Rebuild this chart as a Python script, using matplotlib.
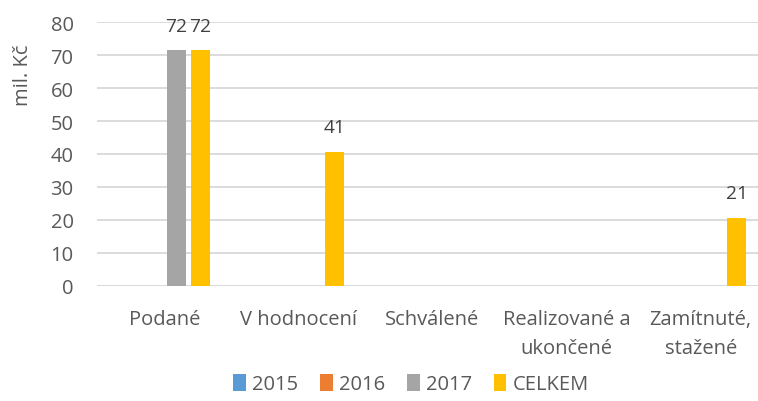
import matplotlib
matplotlib.use("Agg")
import matplotlib.pyplot as plt
import numpy as np

categories = ["Podané", "V hodnocení", "Schválené", "Realizované a\nukončené", "Zamítnuté,\nstažené"]
series_names = ["2015", "2016", "2017", "CELKEM"]
v2015 = [0, 0, 0, 0, 0]
v2016 = [0, 0, 0, 0, 0]
v2017 = [71.6, 0, 0, 0, 0]
vcelkem = [71.6, 40.7, 0, 0, 20.7]
colors = ["#5B9BD5", "#ED7D31", "#A5A5A5", "#FFC000"]
yticks = [0, 10, 20, 30, 40, 50, 60, 70, 80]

plt.rcParams['font.family'] = ['Open Sans', 'DejaVu Sans']
FS = 14.5
W, H = 758, 402
fig = plt.figure(figsize=(W/100, H/100), dpi=100)
left = 97.2 / W
bottom = 1 - 286.7 / H
ax = fig.add_axes([left, bottom, 670.5 / W, 263.4 / H])

x = np.arange(len(categories))
pitch = 24 / 134.1
bw = 19 / 134.1
txtc = "#595959"
all_series = [v2015, v2016, v2017, vcelkem]
for i, (name, vals, c) in enumerate(zip(series_names, all_series, colors)):
    pos = x + (i - 1.5) * pitch
    bars = ax.bar(pos, vals, width=bw, color=c, label=name, zorder=3)
    for b, v in zip(bars, vals):
        if v > 0:
            ax.annotate(f"{round(v):.0f}", (b.get_x() + b.get_width() / 2, v),
                        xytext=(0, 17.5), textcoords="offset points",
                        ha="center", va="center", fontsize=13.8, color="#404040")

ax.set_xlim(-0.5, len(categories) - 0.5)
ax.set_ylim(0, 80)
ax.set_yticks(yticks)
ax.set_xticks(x)
ax.set_xticklabels(categories, linespacing=1.55)
ax.yaxis.grid(True, color="#D9D9D9", linewidth=1.3, zorder=0)
ax.set_axisbelow(True)
for s in ax.spines.values():
    s.set_visible(False)
ax.axhline(0, color="#D9D9D9", linewidth=1.3, zorder=1)
ax.tick_params(axis='both', length=0, labelsize=FS, colors=txtc)
ax.tick_params(axis='y', pad=17)
ax.tick_params(axis='x', pad=17)
ax.set_ylabel("mil. Kč", fontsize=FS, color=txtc)
ax.yaxis.set_label_coords((33 - 97.2) / 670.5, (286.7 - 75) / 263.4)

leg = fig.legend(loc="center", bbox_to_anchor=(411 / W, 1 - 385 / H), ncol=4,
                 frameon=False, fontsize=FS, handlelength=0.62, handleheight=0.9,
                 handletextpad=0.3, columnspacing=1.1, labelcolor=txtc)

fig.savefig("out.png", dpi=100)
